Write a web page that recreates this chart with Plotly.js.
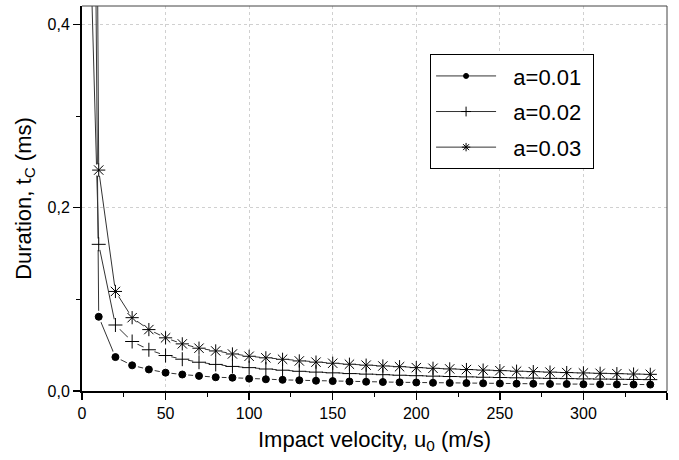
<!DOCTYPE html>
<html>
<head>
<meta charset="utf-8">
<script src="https://cdn.plot.ly/plotly-3.0.1.min.js"></script>
<style>html,body{margin:0;padding:0;background:#fff;}#chart{width:679px;height:460px;}</style>
</head>
<body>
<div id="chart"></div>
<script>
var velocity = [1,10,20,30,40,50,60,70,80,90,100,110,120,130,140,150,160,170,180,190,200,210,220,230,240,250,260,270,280,290,300,310,320,330,340];
var durA001 = [2.0,0.081,0.037,0.028,0.0235,0.020,0.018,0.0165,0.015,0.0145,0.0135,0.0128,0.0122,0.0117,0.0112,0.0108,0.0104,0.0101,0.0098,0.0095,0.0093,0.0090,0.0088,0.0086,0.0084,0.0082,0.0080,0.0079,0.0077,0.0076,0.0074,0.0073,0.0072,0.0071,0.0070];
var durA002 = [0.75,0.16,0.072,0.054,0.045,0.0387,0.0347,0.0314,0.029,0.0268,0.0255,0.024,0.0227,0.0215,0.0206,0.0198,0.019,0.0184,0.0178,0.0172,0.0167,0.0162,0.0158,0.0154,0.015,0.0147,0.0144,0.0141,0.0138,0.0135,0.0132,0.013,0.0128,0.0126,0.0124];
var durA003 = [3.0,0.241,0.1086,0.080,0.067,0.058,0.0514,0.0467,0.0437,0.0404,0.0379,0.0362,0.0346,0.0328,0.0315,0.0303,0.0292,0.0282,0.0273,0.0265,0.0255,0.0248,0.0241,0.0234,0.0228,0.0222,0.0216,0.0211,0.0206,0.0201,0.0197,0.0193,0.0189,0.0185,0.0182];
var seriesNames = ['a=0.01','a=0.02','a=0.03'];
var xTickVals = [0,50,100,150,200,250,300,350];
var yTickVals = [0,0.2,0.4];

var series = [durA001, durA002, durA003];
var symbols = ['circle','cross-thin-open','asterisk-open'];
var sizes = [7,10,11];
var legendSizes = [5,7,7];
var lineColor = '#333333';
var traces = [];
series.forEach(function(s){
  traces.push({x: velocity, y: s, mode:'lines', line:{color:lineColor, width:1}, showlegend:false, hoverinfo:'skip'});
});
series.forEach(function(s){
  traces.push({x: velocity.slice(1), y: s.slice(1), mode:'markers', marker:{symbol:'circle', size:12, color:'#ffffff', line:{width:0}}, showlegend:false, hoverinfo:'skip'});
});
series.forEach(function(s,i){
  traces.push({x: velocity.slice(1), y: s.slice(1), mode:'markers', marker:{symbol:symbols[i], size:sizes[i], color:'#000000', line:{color:'#000000', width:1}}, showlegend:false});
});
series.forEach(function(s,i){
  traces.push({x:[null], y:[null], mode:'lines+markers', name: '&nbsp;&nbsp;' + seriesNames[i] + '&nbsp;', legendgroup:'g'+i,
    line:{color:lineColor, width:1}, marker:{symbol:symbols[i], size:legendSizes[i], color:'#000000', line:{color:'#000000', width:1}}});
});

var fontFam = '"Liberation Sans", Arial, sans-serif';
var tickFont = {size:16, family:fontFam, color:'#000000'};
var layout = {
  width:679, height:460,
  margin:{l:82, r:12, t:6, b:69},
  paper_bgcolor:'#ffffff', plot_bgcolor:'#ffffff',
  separators:',.',
  font:{family:fontFam, color:'#000000', size:16},
  xaxis:{
    range:[0,350], tickmode:'array', tickvals:xTickVals, ticks:'outside', ticklen:7, tickwidth:1.5, tickcolor:'#000',
    showline:true, linewidth:2, linecolor:'#000', zeroline:false,
    showgrid:true, gridcolor:'#d0d0d0', griddash:'dot', gridwidth:1,
    minor:{tickmode:'linear', dtick:25, tick0:0, ticks:'outside', ticklen:4, tickwidth:1, tickcolor:'#000', showgrid:false},
    tickfont:tickFont,
    title:{text:'Impact velocity, u<sub>0</sub> (m/s)', font:{size:22, family:fontFam, color:'#000'}, standoff:10}
  },
  yaxis:{
    range:[0,0.42], tickmode:'array', tickvals:yTickVals, tickformat:'.1f', ticks:'outside', ticklen:7, tickwidth:1.5, tickcolor:'#000',
    showline:true, linewidth:2, linecolor:'#000', zeroline:false,
    showgrid:true, gridcolor:'#d0d0d0', griddash:'dot', gridwidth:1,
    minor:{tickmode:'linear', dtick:0.1, tick0:0, ticks:'outside', ticklen:4, tickwidth:1, tickcolor:'#000', showgrid:false},
    tickfont:tickFont,
    title:{text:'Duration, t<sub>C</sub> (ms)', font:{size:22, family:fontFam, color:'#000'}, standoff:10}
  },
  legend:{x:0.595, y:0.875, xanchor:'left', yanchor:'top', bgcolor:'#ffffff', bordercolor:'#000', borderwidth:1,
    font:{size:22, family:fontFam, color:'#000'}, traceorder:'grouped', tracegroupgap:4, itemwidth:60},
  shapes:[
    {type:'line', xref:'paper', yref:'paper', x0:0, x1:1, y0:1, y1:1, line:{color:'#444', width:1}},
    {type:'line', xref:'paper', yref:'paper', x0:1, x1:1, y0:0, y1:1, line:{color:'#444', width:1}}
  ]
};
Plotly.newPlot('chart', traces, layout, {displayModeBar:false, staticPlot:true});
</script>
</body>
</html>
